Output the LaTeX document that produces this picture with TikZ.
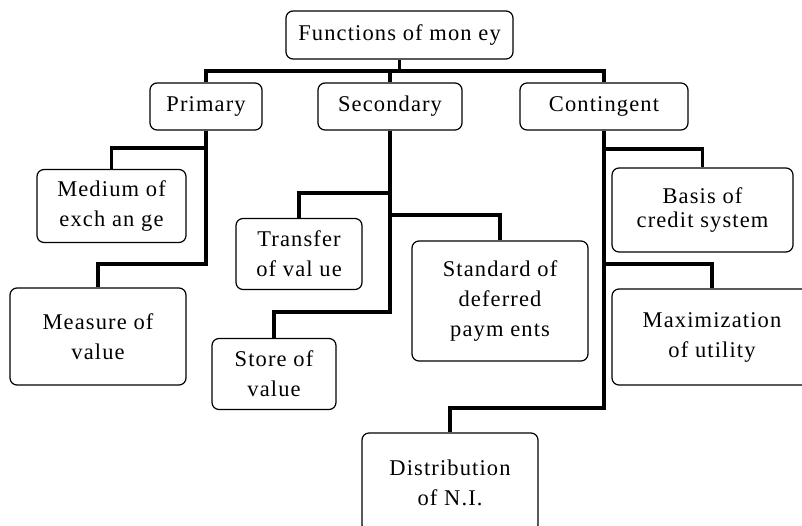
\documentclass[tikz,border=0pt]{standalone}
\usepackage{fontspec}
\setmainfont{Liberation Serif}[LetterSpace=5]
\begin{document}
\begin{tikzpicture}[x=1pt,y=-1pt,
  box/.style={draw, line width=1.2pt, rounded corners=7pt, align=center, inner sep=0pt,
    font=\fontsize{22.5}{30}\selectfont},
  conn/.style={line width=3.2pt}]
\clip (0,0) rectangle (802,525);
% boxes
\node[box, minimum width=227pt, minimum height=48pt] (top) at (399.5,35) {Functions of mon ey};
\node[box, minimum width=112pt, minimum height=47pt] (prim) at (206,106.5) {Primary};
\node[box, minimum width=144pt, minimum height=47pt] (sec) at (390,106.5) {Secondary};
\node[box, minimum width=168pt, minimum height=47pt] (cont) at (604,106.5) {Contingent};
\node[box, minimum width=149pt, minimum height=73pt] (medium) at (111.5,206) {Medium of\\exch an ge};
\node[box, minimum width=176pt, minimum height=97pt] (measure) at (98,336.5) {Measure of\\value};
\node[box, minimum width=126pt, minimum height=71pt] (transfer) at (299,254) {Transfer\\of val ue};
\node[box, minimum width=124pt, minimum height=71pt] (store) at (274,374) {Store of\\value};
\node[box, minimum width=176pt, minimum height=120pt] (standard) at (500,301) {Standard of\\deferred\\paym ents};
\node[box, minimum width=181pt, minimum height=84pt, font=\fontsize{22.5}{24}\selectfont] (basis) at (702.5,210) {Basis of\\credit system};
\node[box, minimum width=200pt, minimum height=96pt] (max) at (712,337) {Maximization\\of utility};
\node[box, minimum width=176pt, minimum height=99pt] (dist) at (450,482.5) {Distribution\\of N.I.};
% level coordinates
\coordinate (bus) at (0,71);
\coordinate (yMed) at (0,148);
\coordinate (yMeas) at (0,264);
\coordinate (yTr) at (0,193);
\coordinate (ySt) at (0,215);
\coordinate (ySto) at (0,312);
\coordinate (yBa) at (0,149);
\coordinate (yMax) at (0,264);
\coordinate (yDi) at (0,408);
% connectors
\draw[conn] (top.south) -- (top.south |- bus);
\draw[conn] (prim.north) |- (cont.north |- bus) -- (cont.north);
\draw[conn] (sec.north) -- (sec.north |- bus);
\draw[conn] (prim.south) -- (prim.south |- yMeas) -| (measure.north);
\draw[conn] (prim.south |- yMed) -| (medium.north);
\draw[conn] (sec.south) -- (sec.south |- ySto) -| (store.north);
\draw[conn] (sec.south |- yTr) -| (transfer.north);
\draw[conn] (sec.south |- ySt) -| (standard.north);
\draw[conn] (cont.south) -- (cont.south |- yDi) -| (dist.north);
\draw[conn] (cont.south |- yBa) -| (basis.north);
\draw[conn] (cont.south |- yMax) -| (max.north);
\end{tikzpicture}
\end{document}
